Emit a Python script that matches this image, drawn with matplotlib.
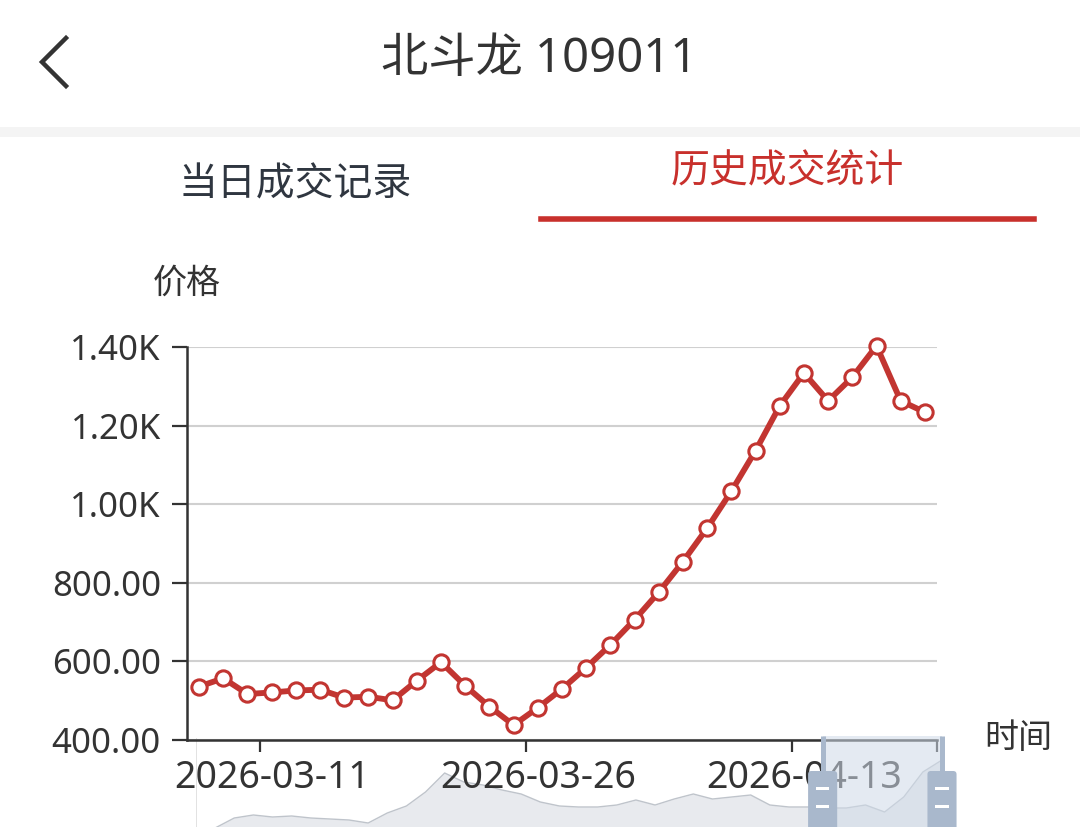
import numpy as np
import matplotlib
matplotlib.use("Agg")
import matplotlib.pyplot as plt
from matplotlib.patches import Rectangle, FancyBboxPatch
from matplotlib.lines import Line2D

plt.rcParams['font.family'] = ['Noto Sans', 'Noto Sans CJK SC', 'DejaVu Sans']

# data
dates = ['2026-03-06', '2026-03-09', '2026-03-10', '2026-03-11', '2026-03-12',
         '2026-03-13', '2026-03-16', '2026-03-17', '2026-03-18', '2026-03-19',
         '2026-03-20', '2026-03-23', '2026-03-24', '2026-03-25', '2026-03-26',
         '2026-03-27', '2026-03-30', '2026-03-31', '2026-04-01', '2026-04-02',
         '2026-04-03', '2026-04-07', '2026-04-08', '2026-04-09', '2026-04-10',
         '2026-04-13', '2026-04-14', '2026-04-15', '2026-04-16', '2026-04-17',
         '2026-04-20']
prices = [536, 557, 517, 521, 526, 528, 508, 510, 501, 551,
          598, 538, 485, 438, 482, 530, 584, 642, 706, 776,
          854, 939, 1033, 1136, 1250, 1334, 1263, 1323, 1403, 1263,
          1234]
label_idx = [3, 14, 25]
ytick_vals = [400, 600, 800, 1000, 1200, 1400]
ytick_labels = ['400.00', '600.00', '800.00', '1.00K', '1.20K', '1.40K']

# full-history preview in the zoom slider (rough reading)
shadow_vals = [-9, -1, 9, 12, 10, 11, 9, 8, 7, 4,
               14, 21, 35, 54, 45, 42, 37, 33, 25, 21,
               20, 20, 22, 27, 22, 28, 33, 28, 30, 32,
               22, 20, 20, 19, 19, 22, 15, 30, 55, 67]
zoom_start, zoom_end = 84, 100

RED = '#c23531'
DARK = '#333333'
W, H = 1080, 827


def fx(x):
    return x / W


def fy(y):
    return 1 - y / H


fig = plt.figure(figsize=(10.8, 8.27), dpi=100)
fig.patch.set_facecolor('white')

# header
fig.add_artist(Line2D([fx(66), fx(42), fx(66)], [fy(38), fy(62), fy(86)],
                      color=DARK, lw=3.2, solid_joinstyle='miter'))
fig.text(fx(539), fy(60), '北斗龙 109011', fontsize=34, color=DARK,
         ha='center', va='center')
fig.add_artist(Rectangle((0, fy(137)), 1, fy(127) - fy(137),
                         transform=fig.transFigure, color='#f4f4f4', lw=0))
fig.text(fx(295), fy(185), '当日成交记录', fontsize=28, color='#2f3640',
         ha='center', va='center')
fig.text(fx(787), fy(172), '历史成交统计', fontsize=28, color='#c8302c',
         ha='center', va='center')
fig.add_artist(Line2D([fx(541), fx(1034)], [fy(219), fy(219)],
                      color='#c8302c', lw=4.0))
fig.text(fx(187), fy(284), '价格', fontsize=24.5, color=DARK,
         ha='center', va='center')
fig.text(fx(1018), fy(739), '时间', fontsize=24.5, color=DARK,
         ha='center', va='center')

# slider preview (under the main axes so labels sit on top)
sl_rect = [fx(196), 0, fx(942) - fx(196), 89 / H]
ax_sh = fig.add_axes(sl_rect, zorder=0)
ax_sh.set_xlim(0, 100)
ax_sh.set_ylim(0, 89)
ax_sh.axis('off')
sx = np.linspace(0, 100, len(shadow_vals))
ax_sh.fill_between(sx, shadow_vals, -20, color='#e8eaee', lw=0)
ax_sh.plot(sx, shadow_vals, color='#bfc4cb', lw=1.0)
ax_sh.plot([0, 0], [0, 89], color='#dddddd', lw=1.2)

# main chart
ax = fig.add_axes([fx(187), fy(740), fx(937) - fx(187), fy(347) - fy(740)],
                  zorder=1)
ax.patch.set_alpha(0)
x = np.arange(len(prices))
ax.plot(x, prices, color=RED, lw=4.2, marker='o', ms=11, mfc='white',
        mec=RED, mew=2.2, zorder=3, clip_on=False)
ax.set_xlim(-0.5, len(prices) - 0.5)
ax.set_ylim(400, 1400)
ax.set_yticks(ytick_vals)
ax.set_yticklabels(ytick_labels)
ax.yaxis.grid(True, color='#d0d0d0', lw=1.5)
ax.set_axisbelow(True)
for s in ['top', 'right']:
    ax.spines[s].set_visible(False)
for s in ['left', 'bottom']:
    ax.spines[s].set_color(DARK)
    ax.spines[s].set_linewidth(1.8)
ax.tick_params(axis='y', length=10.8, width=1.6, color=DARK, pad=8,
               labelsize=25, labelcolor=DARK)
ax.set_xticks([i - 0.5 for i in label_idx] + [len(prices) - 0.5])
ax.set_xticklabels([])
ax.set_xticks(label_idx, minor=True)
ax.set_xticklabels([dates[i] for i in label_idx], minor=True)
ax.tick_params(axis='x', which='major', length=8.5, width=1.6, color=DARK)
ax.tick_params(axis='x', which='minor', length=0, pad=14, labelsize=27,
               labelcolor=DARK)

# slider window and handles on top
ax_sl = fig.add_axes(sl_rect, zorder=2)
ax_sl.set_xlim(0, 100)
ax_sl.set_ylim(0, 89)
ax_sl.axis('off')
ax_sl.add_patch(Rectangle((zoom_start, 0), zoom_end - zoom_start, 91,
                          facecolor='#cfdae8', alpha=0.55, lw=0,
                          clip_on=False))
asp = 7.46
for hx in [zoom_start, zoom_end]:
    ax_sl.plot([hx, hx], [0, 91], color='#a9b8cc', lw=3.6, clip_on=False,
               solid_capstyle='butt', zorder=2)
    ax_sl.add_patch(FancyBboxPatch((hx - 1.95, -12), 3.9, 68,
                                   boxstyle='round,pad=0,rounding_size=0.45',
                                   mutation_aspect=asp, facecolor='#a9b8cc',
                                   lw=0, clip_on=False, zorder=3))
    for dy in [39, 21]:
        ax_sl.add_patch(Rectangle((hx - 0.9, dy - 1.5), 1.8, 3,
                                  facecolor='white', lw=0, clip_on=False,
                                  zorder=4))

fig.savefig('out.png', dpi=100, facecolor='white')
